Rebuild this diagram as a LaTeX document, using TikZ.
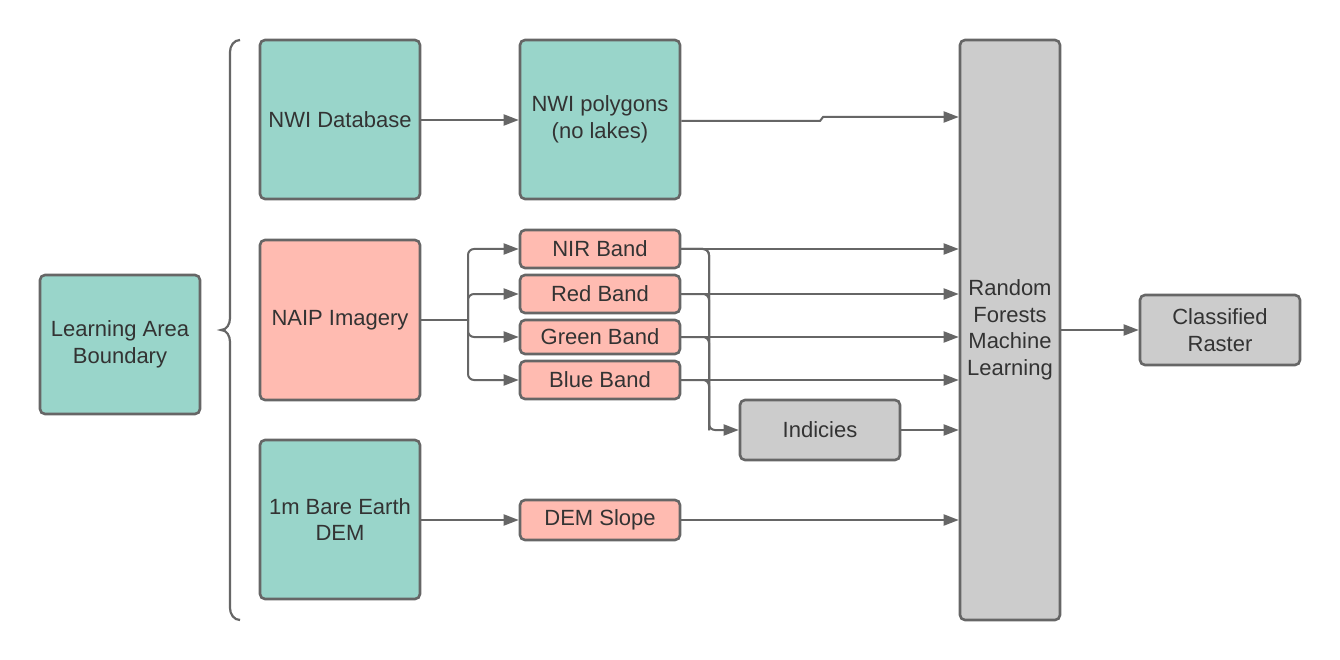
\documentclass[tikz,border=0pt]{standalone}
\usepackage{fontspec}
\setmainfont{Liberation Sans}
\usetikzlibrary{arrows.meta}
\definecolor{teal1}{RGB}{153,213,202}
\definecolor{salmon1}{RGB}{255,187,177}
\definecolor{grey1}{RGB}{204,204,204}
\definecolor{edge1}{RGB}{102,102,102}
\definecolor{txt1}{RGB}{51,51,51}
\tikzset{
  box/.style={draw=edge1, line width=2.6pt, rounded corners=5pt, inner sep=0pt,
    align=center, text=txt1, font=\fontsize{22}{26.5}\selectfont},
  tealbox/.style={box, fill=teal1},
  salbox/.style={box, fill=salmon1},
  greybox/.style={box, fill=grey1},
  conn/.style={draw=edge1, line width=2pt, -{Triangle[length=15pt,width=11pt]}},
  plain/.style={draw=edge1, line width=2pt},
}
\begin{document}
\begin{tikzpicture}[x=1pt,y=-1pt]
\useasboundingbox (0,0) rectangle (1340,660);
\fill[white] (0,0) rectangle (1340,660);
% nodes
\node[tealbox, minimum width=160pt, minimum height=139pt] (lab) at (120,344.5) {Learning Area\\Boundary};
\node[tealbox, minimum width=160pt, minimum height=159pt] (nwidb) at (340,119.5) {NWI Database};
\node[salbox, minimum width=160pt, minimum height=160pt] (naip) at (340,320) {NAIP Imagery};
\node[tealbox, minimum width=160pt, minimum height=159pt] (dem) at (340,519.5) {1m Bare Earth\\DEM};
\node[tealbox, minimum width=160pt, minimum height=159pt] (nwip) at (600,119.5) {NWI polygons\\(no lakes)};
\node[salbox, minimum width=160pt, minimum height=38pt] (nir) at (600,249) {NIR Band};
\node[salbox, minimum width=160pt, minimum height=38pt] (red) at (600,294) {Red Band};
\node[salbox, minimum width=160pt, minimum height=34pt] (green) at (600,337) {Green Band};
\node[salbox, minimum width=160pt, minimum height=38pt] (blue) at (600,380) {Blue Band};
\node[greybox, minimum width=160pt, minimum height=60pt] (ind) at (820,430) {Indicies};
\node[salbox, minimum width=160pt, minimum height=40pt] (slope) at (600,520) {DEM Slope};
\node[greybox, minimum width=100pt, minimum height=580pt] (rf) at (1010,330) {Random\\Forests\\Machine\\Learning};
\node[greybox, minimum width=160pt, minimum height=70pt] (cls) at (1220,330) {Classified\\Raster};
% brace
\draw[edge1, line width=2.2pt] (240,40) to[out=180,in=90] (230,52) -- (230,318)
  to[out=-90,in=0] (221,330) to[out=0,in=90] (230,342) -- (230,608)
  to[out=-90,in=180] (240,620);
% connectors
\coordinate (jogA) at (820,121);
\coordinate (jogB) at (823,117);
\draw[conn] (nwidb.east |- 0,120) -- (nwip.west |- 0,120);
\draw[conn] (nwip.east |- 0,121) -- (jogA) -- (jogB) -- (rf.west |- 0,117);
\coordinate (split) at (468,320);
\draw[plain] (naip.east |- split) -- (split);
\draw[conn, rounded corners=6pt] (split) |- (nir.west);
\draw[conn, rounded corners=6pt] (split) |- (red.west);
\draw[conn, rounded corners=6pt] (split) |- (green.west);
\draw[conn, rounded corners=6pt] (split) |- (blue.west);
\foreach \n in {nir,red,green,blue}{
  \draw[conn] (\n.east) -- (rf.west |- \n.east);
}
\coordinate (vx) at (709,430);
\foreach \n in {nir,red,green,blue}{
  \draw[plain, rounded corners=6pt] (\n.east) -| (vx);
}
\draw[conn, rounded corners=6pt] (nir.east) -| (vx) -- (ind.west);
\draw[conn] (ind.east) -- (rf.west |- ind.east);
\draw[conn] (dem.east |- slope.west) -- (slope.west);
\draw[conn] (slope.east) -- (rf.west |- slope.east);
\draw[conn] (rf.east |- cls.west) -- (cls.west);
\end{tikzpicture}
\end{document}
